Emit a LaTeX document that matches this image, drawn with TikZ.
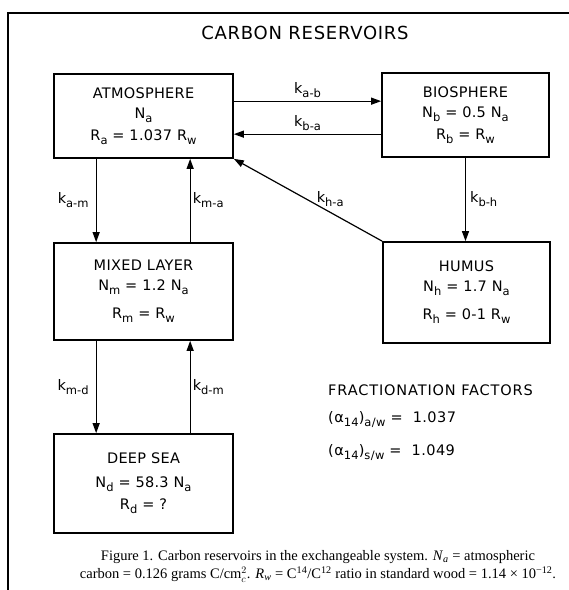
\documentclass[tikz,border=0pt]{standalone}
\usepackage{fontspec}
\setmainfont{DejaVu Sans}
\newfontfamily\capfont{Liberation Serif}
\usetikzlibrary{arrows.meta,positioning}
\newcommand{\ix}[1]{\raisebox{-0.5ex}{\fontsize{11.5}{12}\selectfont #1}}

\begin{document}
\begin{tikzpicture}[
  x=1pt, y=-1pt,
  reservoir/.style={draw, line width=1.7pt, minimum width=179pt, minimum height=84pt,
                    align=center, inner sep=0pt,
                    font=\fontsize{14.5}{20}\selectfont\addfontfeatures{LetterSpace=2}},
  flux/.style={-{Triangle[length=10pt,width=7pt]}, line width=1.2pt},
  rate/.style={font=\fontsize{14.5}{15}\selectfont, inner sep=2pt},
  factor/.style={font=\fontsize{14.5}{16}\selectfont\addfontfeatures{LetterSpace=3}, inner sep=0pt}
]
\useasboundingbox (0,0) rectangle (569,590);

% frame
\draw[line width=2.5pt] (569,13) -- (8,13) -- (8,590);

\node[font=\fontsize{18}{20}\selectfont\addfontfeatures{LetterSpace=4}] (title) at (305,33) {CARBON RESERVOIRS};

% Reservoirs
\node[reservoir] (atm) at (143.5,116) {ATMOSPHERE\\N\ix{a}\\[2pt]R\ix{a} = 1.037 R\ix{w}};
\node[reservoir, minimum width=167pt] (bio) at (465.5,115) {BIOSPHERE\\N\ix{b} = 0.5 N\ix{a}\\[2pt]R\ix{b} = R\ix{w}};
\node[reservoir, minimum height=97pt] (mix) at (143.5,291.5) {MIXED LAYER\\N\ix{m} = 1.2 N\ix{a}\\[8pt]R\ix{m} = R\ix{w}};
\node[reservoir, minimum width=167pt, minimum height=101pt] (hum) at (466.5,292.5) {HUMUS\\N\ix{h} = 1.7 N\ix{a}\\[8pt]R\ix{h} = 0-1 R\ix{w}};
\node[reservoir, minimum height=99pt] (deep) at (143.5,483.5) {DEEP SEA\\[4pt]N\ix{d} = 58.3 N\ix{a}\\[2pt]R\ix{d} = ?};

% Arrows
\coordinate (ab) at ([yshift=-28pt]atm.north east);
\coordinate (ba) at ([yshift=-61pt]atm.north east);
\draw[flux] (ab) -- node[rate, above=1pt] {k\ix{a-b}} (ab -| bio.west);
\draw[flux] (ba -| bio.west) -- node[rate, above=1pt] {k\ix{b-a}} (ba);
\draw[flux] ([xshift=43pt]atm.south west) -- node[rate, left=5pt] {k\ix{a-m}} ([xshift=43pt]mix.north west);
\draw[flux] ([xshift=137pt]mix.north west) -- node[rate, right=0pt] {k\ix{m-a}} ([xshift=137pt]atm.south west);
\draw[flux] ([xshift=43pt]mix.south west) -- node[rate, left=5pt] {k\ix{m-d}} ([xshift=43pt]deep.north west);
\draw[flux] ([xshift=137pt]deep.north west) -- node[rate, right=0pt] {k\ix{d-m}} ([xshift=137pt]mix.south west);
\draw[flux] (bio.south) -- node[rate, right=2pt] {k\ix{b-h}} (bio.south |- hum.north);
\draw[flux] (hum.north west) -- node[rate, pos=0.35, above=3pt] {k\ix{h-a}} (atm.south east);

% Fractionation factors
\node[factor, anchor=west, font=\fontsize{14.5}{16}\selectfont\addfontfeatures{LetterSpace=6}] (frac) at (328,390) {FRACTIONATION FACTORS};
\node[factor, below=16pt of frac.south west, anchor=north west] (faw) {(α\ix{14})\ix{a/w} = \ 1.037};
\node[factor, below=16pt of faw.south west, anchor=north west] (fsw) {(α\ix{14})\ix{s/w} = \ 1.049};

% caption
\node[font=\capfont\fontsize{14.5}{18}\selectfont, align=center] (cap) at (318,566) {Figure 1. Carbon reservoirs in the exchangeable system. \textit{N}\textsubscript{\textit{a}} = atmospheric\\carbon = 0.126 grams C/cm\smash{$^{2}_{c}$}. \textit{R}\textsubscript{\textit{w}} = C\textsuperscript{14}/C\textsuperscript{12} ratio in standard wood = 1.14 × 10\textsuperscript{−12}.};
\end{tikzpicture}
\end{document}
